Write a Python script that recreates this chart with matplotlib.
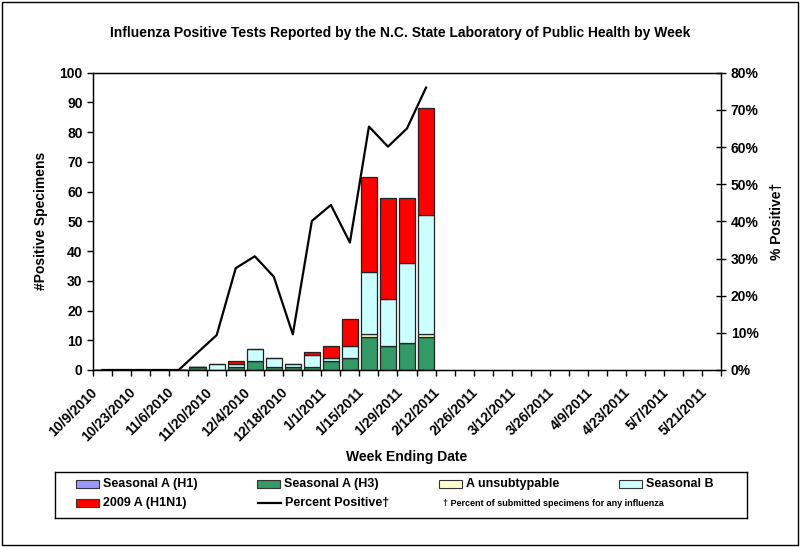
import matplotlib
matplotlib.use("Agg")
import matplotlib.pyplot as plt
import matplotlib.transforms as mtransforms
from matplotlib.patches import Rectangle
from matplotlib.lines import Line2D

plt.rcParams['font.family'] = ['Liberation Sans', 'DejaVu Sans']

# Week ending dates (33 weeks)
weeks = ["10/9/2010", "10/16/2010", "10/23/2010", "10/30/2010", "11/6/2010",
         "11/13/2010", "11/20/2010", "11/27/2010", "12/4/2010", "12/11/2010",
         "12/18/2010", "12/25/2010", "1/1/2011", "1/8/2011", "1/15/2011",
         "1/22/2011", "1/29/2011", "2/5/2011", "2/12/2011", "2/19/2011",
         "2/26/2011", "3/5/2011", "3/12/2011", "3/19/2011", "3/26/2011",
         "4/2/2011", "4/9/2011", "4/16/2011", "4/23/2011", "4/30/2011",
         "5/7/2011", "5/14/2011", "5/21/2011"]

# Weekly counts (only the first 18 weeks reported)
seasonal_h1 = [0, 0, 0, 0, 0, 0, 0, 0, 0, 0, 0, 0, 0, 0, 0, 0, 0, 0]
seasonal_h3 = [0, 0, 0, 0, 0, 1, 0, 1, 3, 1, 1, 1, 3, 4, 11, 8, 9, 11]
a_unsub     = [0, 0, 0, 0, 0, 0, 0, 0, 0, 0, 0, 0, 0, 0, 1, 0, 0, 1]
seasonal_b  = [0, 0, 0, 0, 0, 0, 2, 1, 4, 3, 1, 4, 1, 4, 21, 16, 27, 40]
h1n1_2009   = [0, 0, 0, 0, 0, 0, 0, 1, 0, 0, 0, 1, 4, 9, 32, 34, 22, 36]
pct_positive = [0, 0, 0, 0, 0, 4.7, 9.4, 27.4, 30.6, 25.1, 9.6, 40.1, 44.4,
                34.3, 65.5, 60.1, 65.0, 76.0]

series = [("Seasonal A (H1)", seasonal_h1, "#9999FF"),
          ("Seasonal A (H3)", seasonal_h3, "#339966"),
          ("A unsubtypable", a_unsub, "#FFFFCC"),
          ("Seasonal B", seasonal_b, "#CCFFFF"),
          ("2009 A (H1N1)", h1n1_2009, "#FF0000")]

fig = plt.figure(figsize=(8, 5.47), dpi=100)
ax = fig.add_axes([0.11625, 0.3236, 0.785, 0.5435])

x = list(range(len(seasonal_h3)))
bottom = [0] * len(x)
for name, vals, color in series:
    ax.bar(x, vals, width=0.86, bottom=bottom, color=color,
           edgecolor="#222222", linewidth=0.9, zorder=2)
    bottom = [b + v for b, v in zip(bottom, vals)]

n = len(weeks)
ax.set_xlim(-0.5, n - 0.5)
ax.set_ylim(0, 100)
ax.set_yticks(range(0, 101, 10))
ax.tick_params(axis='y', labelsize=10, direction='out', length=4, width=1)
for lab in ax.get_yticklabels():
    lab.set_fontweight('bold')

# category boundary ticks, labels every other week
ax.set_xticks([i - 0.5 for i in range(n + 1)], minor=True)
ax.set_xticks(list(range(0, n, 2)))
ax.set_xticklabels(weeks[0::2], rotation=45, ha='right',
                   rotation_mode='anchor', fontsize=10, fontweight='bold')
ax.tick_params(axis='x', which='major', length=0, pad=11)
ax.tick_params(axis='x', which='minor', length=4, width=1, direction='out')
shift = mtransforms.ScaledTranslation(-12 / 100, 0, fig.dpi_scale_trans)
for lab in ax.get_xticklabels():
    lab.set_transform(lab.get_transform() + shift)

for sp in ax.spines.values():
    sp.set_linewidth(1)
ax.set_ylabel("#Positive Specimens", fontsize=10, fontweight='bold', labelpad=8)
ax.set_xlabel("Week Ending Date", fontsize=10, fontweight='bold', labelpad=4)

ax2 = ax.twinx()
ax2.plot(x, pct_positive, color="black", linewidth=1.6, zorder=3)
ax2.set_ylim(0, 80)
ax2.set_yticks(range(0, 81, 10))
ax2.set_yticklabels([f"{v}%" for v in range(0, 81, 10)])
ax2.tick_params(axis='y', labelsize=10, direction='inout', length=7, width=1)
for lab in ax2.get_yticklabels():
    lab.set_fontweight('bold')
ax2.set_ylabel("% Positive†", fontsize=10, fontweight='bold', labelpad=8)

fig.text(0.5, 0.94, "Influenza Positive Tests Reported by the N.C. State Laboratory "
         "of Public Health by Week", ha='center', va='center', fontsize=10,
         fontweight='bold')

# legend box drawn in its own pixel-like axes
lg = fig.add_axes([55 / 800, 29 / 547, 692 / 800, 46 / 547])
lg.set_xlim(55, 747)
lg.set_ylim(518, 472)
lg.set_xticks([])
lg.set_yticks([])
for sp in lg.spines.values():
    sp.set_linewidth(1)

row1 = 484
row2 = 503
slots = [(76, row1), (257, row1), (439, row1), (619, row1), (76, row2)]
for (name, vals, color), (px, py) in zip(series, slots):
    lg.add_patch(Rectangle((px, py - 4), 23, 8, facecolor=color,
                           edgecolor="#333333", linewidth=0.8))
    lg.text(px + 27, py, name, va='center', ha='left', fontsize=9,
            fontweight='bold')
lg.add_line(Line2D([258, 281], [row2, row2], color='black', linewidth=1.6))
lg.text(285, row2, "Percent Positive†", va='center', ha='left', fontsize=9,
        fontweight='bold')
lg.text(443, row2, "† Percent of submitted specimens for any influenza",
        va='center', ha='left', fontsize=6.5, fontweight='bold')

# outer chart border
fig.add_artist(Rectangle((0.003, 0.004), 0.994, 0.992, transform=fig.transFigure,
                         fill=False, edgecolor='black', linewidth=1))

fig.savefig("out.png", dpi=100)
